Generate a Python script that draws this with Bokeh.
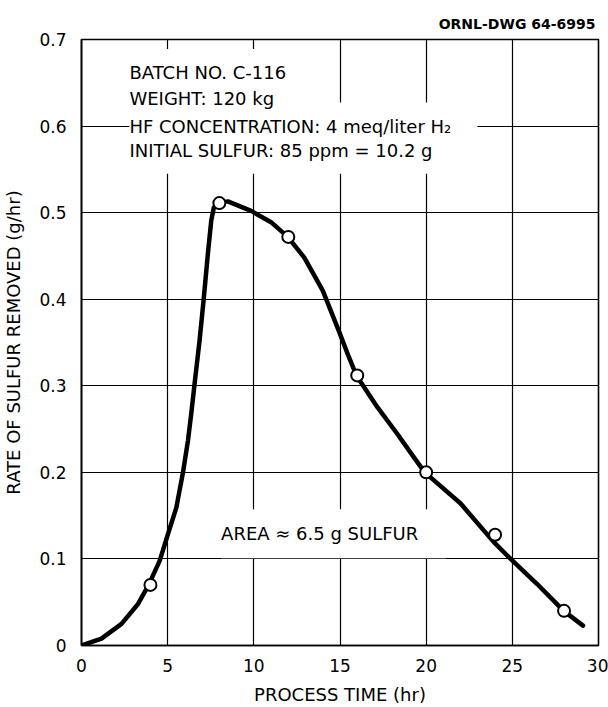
from bokeh.plotting import figure
from bokeh.models import FixedTicker, Label, Range1d, ColumnDataSource
from bokeh.embed import file_html
from bokeh.resources import INLINE

# measured points
time_pts = [4, 8, 12, 16, 20, 24, 28]
rate_pts = [0.070, 0.511, 0.472, 0.312, 0.200, 0.128, 0.040]

# traced smooth curve
curve_t = [0, 1.16, 2.32, 3.28, 3.9, 4.54, 5.02, 5.5, 5.89, 6.18, 6.37, 6.56, 6.85,
           7.10, 7.33, 7.53, 7.68, 7.92, 8.49, 9.84, 11.0, 11.97, 12.93, 14.0,
           14.96, 15.44, 15.95, 17.18, 18.34, 19.3, 19.92, 22.0, 23.9, 24.9,
           26.44, 27.98, 29.1]
curve_r = [0, 0.008, 0.025, 0.048, 0.070, 0.098, 0.129, 0.159, 0.200, 0.237, 0.268,
           0.302, 0.352, 0.402, 0.452, 0.491, 0.506, 0.511, 0.513, 0.502, 0.489,
           0.472, 0.448, 0.410, 0.362, 0.337, 0.312, 0.275, 0.244, 0.217, 0.200,
           0.164, 0.120, 0.100, 0.071, 0.040, 0.023]

x_ticks = [0, 5, 10, 15, 20, 25, 30]
y_ticks = [0, 0.1, 0.2, 0.3, 0.4, 0.5, 0.6, 0.7]
y_tick_labels = {0: "0", 0.1: "0.1", 0.2: "0.2", 0.3: "0.3", 0.4: "0.4",
                 0.5: "0.5", 0.6: "0.6", 0.7: "0.7"}

info_lines = ["BATCH NO. C-116", "WEIGHT: 120 kg",
              "HF CONCENTRATION: 4 meq/liter H\u2082",
              "INITIAL SULFUR: 85 ppm = 10.2 g"]
info_y = [0.662, 0.632, 0.600, 0.572]
area_text = "AREA \u2248 6.5 g SULFUR"
drawing_no = "ORNL-DWG 64-6995"

FONT = "DejaVu Sans"

p = figure(width=608, height=707, output_backend="svg", toolbar_location=None,
           x_range=Range1d(0, 30), y_range=Range1d(0, 0.7),
           min_border_left=80, min_border_right=10, min_border_top=39,
           min_border_bottom=62)
p.background_fill_color = "white"
p.border_fill_color = "white"
p.outline_line_color = "black"
p.outline_line_width = 1.6

p.title.text = drawing_no
p.title.align = "right"
p.title.text_font = FONT
p.title.text_font_size = "14px"
p.title.text_font_style = "bold"
p.title.text_color = "black"
p.title.standoff = 16
p.title.offset = 3

for ax in (p.xaxis[0], p.yaxis[0]):
    ax.axis_line_color = "black"
    ax.axis_line_width = 1.6
    ax.major_tick_line_color = None
    ax.minor_tick_line_color = None
    ax.major_tick_out = 0
    ax.major_tick_in = 0
    ax.minor_tick_out = 0
    ax.major_label_text_font = FONT
    ax.major_label_text_font_size = "17px"
    ax.major_label_text_color = "black"
    ax.axis_label_text_font = FONT
    ax.axis_label_text_font_size = "18px"
    ax.axis_label_text_font_style = "normal"
    ax.axis_label_text_color = "black"

p.xaxis.ticker = FixedTicker(ticks=x_ticks)
p.yaxis.ticker = FixedTicker(ticks=y_ticks)
p.yaxis.major_label_overrides = y_tick_labels
p.xaxis.major_label_standoff = 13
p.yaxis.major_label_standoff = 15
p.xaxis.axis_label = "PROCESS TIME (hr)"
p.yaxis.axis_label = "RATE OF SULFUR REMOVED (g/hr)"
p.xaxis.axis_label_standoff = 9
p.yaxis.axis_label_standoff = 12

p.xgrid.ticker = FixedTicker(ticks=x_ticks)
p.ygrid.ticker = FixedTicker(ticks=y_ticks)
for g in (p.xgrid[0], p.ygrid[0]):
    g.grid_line_color = "black"
    g.grid_line_width = 1.2
    g.grid_line_alpha = 1.0

# white backgrounds first (interrupt the grid), then the texts on top
for txt, yy in zip(info_lines, info_y):
    p.add_layout(Label(x=2.78, y=yy, text=txt, text_font=FONT, text_font_size="18px",
                       text_color="white", text_baseline="middle", text_align="left",
                       background_fill_color="white", padding=13))
p.add_layout(Label(x=8.1, y=0.129, text=area_text, text_font=FONT, text_font_size="18px",
                   text_color="white", text_baseline="middle", text_align="left",
                   background_fill_color="white", padding=14))

for txt, yy in zip(info_lines, info_y):
    p.add_layout(Label(x=2.78, y=yy, text=txt, text_font=FONT, text_font_size="18px",
                       text_color="black", text_baseline="middle", text_align="left"))
p.add_layout(Label(x=8.1, y=0.129, text=area_text, text_font=FONT, text_font_size="18px",
                   text_color="black", text_baseline="middle", text_align="left"))

curve_src = ColumnDataSource(data=dict(t=curve_t, r=curve_r))
pts_src = ColumnDataSource(data=dict(t=time_pts, r=rate_pts))
p.line("t", "r", source=curve_src, line_color="black", line_width=4.5,
       line_join="round", line_cap="round")
p.scatter("t", "r", source=pts_src, marker="circle", size=12, fill_color="white",
          line_color="black", line_width=2)

open("out.html", "w").write(file_html(p, INLINE))
